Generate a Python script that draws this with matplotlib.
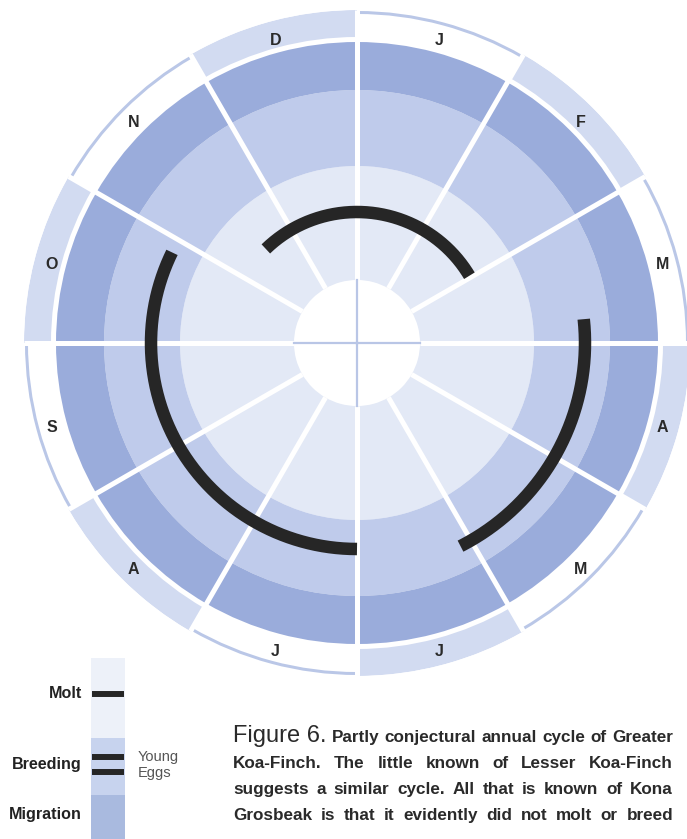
import numpy as np
import matplotlib
matplotlib.use("Agg")
import matplotlib.pyplot as plt
from matplotlib import font_manager
from matplotlib.patches import Rectangle
from matplotlib.transforms import offset_copy

# month labels, clockwise from the top
months = ["J", "F", "M", "A", "M", "J", "J", "A", "S", "O", "N", "D"]
# which months get a shaded label band (1) or a plain one (0)
band_filled = [0, 1, 0, 1, 0, 1, 0, 1, 0, 1, 0, 1]

# activity periods, in months counted from Jan 1
molt_span = [-1.47, 1.97]
young_span = [6.0, 9.87]
eggs_span = [2.8, 5.1]

legend_labels = ["Molt", "Breeding", "Migration"]
stage_labels = ["Young", "Eggs"]

caption_title = "Figure 6."
caption_lines = [
    "Partly conjectural annual cycle of Greater",
    "Koa-Finch. The little known of Lesser Koa-Finch",
    "suggests a similar cycle. All that is known of Kona",
    "Grosbeak is that it evidently did not molt or breed",
]

# colours
c_molt = "#e3e9f6"
c_breed = "#bfcbeb"
c_migr = "#9aacdb"
c_band = "#d2dbf1"
c_edge = "#bac7e7"
c_arc = "#262626"

names = {f.name for f in font_manager.fontManager.ttflist}
narrow = "Liberation Sans Narrow" if "Liberation Sans Narrow" in names else "Liberation Sans"
plain = "Liberation Sans"

W, H = 687, 839
fig = plt.figure(figsize=(W / 100, H / 100), dpi=100)

#polar wheel, radii in pixels
cx, cy, R = 357, 343, 333
ax = fig.add_axes([(cx - R) / W, (H - cy - R) / H, 2 * R / W, 2 * R / H], projection="polar")
ax.set_theta_zero_location("N")
ax.set_theta_direction(-1)
ax.set_ylim(0, R)
ax.set_axis_off()

step = 2 * np.pi / 12
centers = np.arange(12) * step + step / 2
r_disk, r_molt, r_breed, r_migr = 63, 177, 253, 301

ax.bar(centers, r_molt - r_disk, width=step, bottom=r_disk, color=c_molt, edgecolor="none")
ax.bar(centers, r_breed - r_molt, width=step, bottom=r_molt, color=c_breed, edgecolor="none")
ax.bar(centers, r_migr - r_breed, width=step, bottom=r_breed, color=c_migr, edgecolor="none")

filled = np.array(band_filled) == 1
ax.bar(centers[filled], 27, width=step, bottom=306, color=c_band, edgecolor="none")
ax.bar(centers[~filled], 3, width=step, bottom=329, color=c_edge, edgecolor="none")

# white spokes between months
for k in range(12):
    ax.plot([k * step, k * step], [r_disk, R], color="white", lw=3.6, solid_capstyle="butt")
# thin cross inside the centre disk
for k in range(4):
    ax.plot([k * np.pi / 2] * 2, [0, r_disk], color="#b9c6e6", lw=1.6)

def arc(span, r):
    t = np.linspace(span[0], span[1], 300) * step
    ax.plot(t, np.full_like(t, r), color=c_arc, lw=9, solid_capstyle="butt")

arc(molt_span, 131)
arc(young_span, 206)
arc(eggs_span, 228)

lab_tr = offset_copy(ax.transData, fig=fig, y=-3, units="dots")
for t, m in zip(centers, months):
    ax.text(t, 316, m, ha="center", va="center", fontsize=11.5, fontweight="bold",
            color="#2a2a2a", family=plain, transform=lab_tr)

# overlay in pixel coordinates for legend and caption
ov = fig.add_axes([0, 0, 1, 1])
ov.set_xlim(0, W)
ov.set_ylim(H, 0)
ov.axis("off")

ov.add_patch(Rectangle((91, 658), 34, 80, color="#edf1f9", lw=0))
ov.add_patch(Rectangle((91, 738), 34, 57, color="#c7d3ee", lw=0))
ov.add_patch(Rectangle((91, 795), 34, 47, color="#a9badf", lw=0))

for y in [694, 757, 772]:
    ov.plot([92, 124], [y, y], color=c_arc, lw=4.3, solid_capstyle="butt")

for lab, y in zip(legend_labels, [694, 764, 815]):
    ov.text(82, y, lab, ha="right", va="center", fontsize=11.6, fontweight="bold",
            family=narrow, color="#222222")
for lab, y in zip(stage_labels, [757, 773]):
    ov.text(138, y, lab, ha="left", va="center", fontsize=10.5, family=plain, color="#555555")

# justified caption
renderer = fig.canvas.get_renderer()

def justify(tokens, x0, x1, y):
    texts = [ov.text(0, y, s, va="baseline", **kw) for s, kw in tokens]
    widths = [t.get_window_extent(renderer).width for t in texts]
    gap = (x1 - x0 - sum(widths)) / (len(texts) - 1)
    x = x0
    for t, w in zip(texts, widths):
        t.set_x(x)
        x += w + gap

body = dict(fontsize=12.3, fontweight="bold", family=narrow, color="#2a2a2a")
head = dict(fontsize=17, family=plain, color="#2a2a2a")
for i, (line, y) in enumerate(zip(caption_lines, [742, 768, 794, 820])):
    toks = [(w, body) for w in line.split()]
    if i == 0:
        toks = [(caption_title, head)] + toks
    justify(toks, 233, 673, y)

fig.savefig("out.png", dpi=100)
